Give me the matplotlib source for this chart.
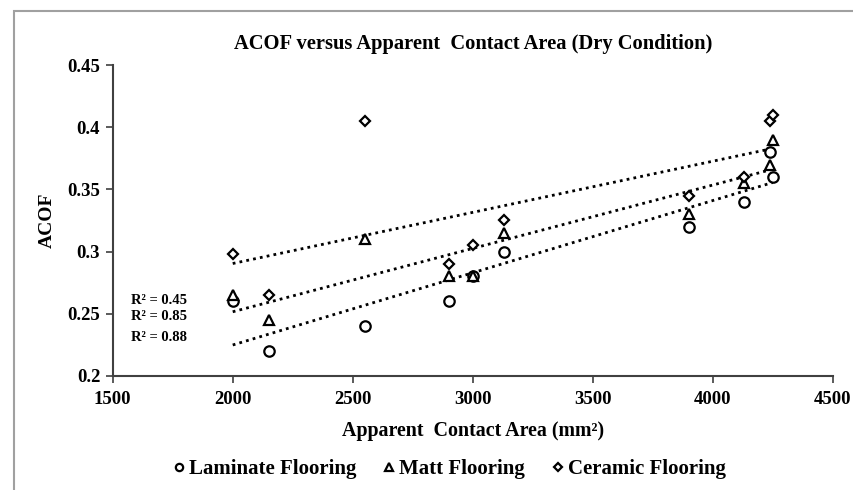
import numpy as np
import matplotlib
matplotlib.use("Agg")
import matplotlib.pyplot as plt
from matplotlib.patches import Rectangle

# Data
x_area = [2000, 2150, 2550, 2900, 3000, 3130, 3900, 4130, 4240, 4250]
laminate = [0.26, 0.22, 0.24, 0.26, 0.28, 0.30, 0.32, 0.34, 0.38, 0.36]
matt = [0.265, 0.245, 0.31, 0.28, 0.28, 0.315, 0.33, 0.355, 0.37, 0.39]
ceramic = [0.298, 0.265, 0.405, 0.29, 0.305, 0.325, 0.345, 0.36, 0.405, 0.41]
series_names = ["Laminate Flooring", "Matt Flooring", "Ceramic Flooring"]
r2_labels = ["R² = 0.45", "R² = 0.85", "R² = 0.88"]
x_ticks = [1500, 2000, 2500, 3000, 3500, 4000, 4500]
y_ticks = [0.2, 0.25, 0.3, 0.35, 0.4, 0.45]
y_tick_labels = ["0.2", "0.25", "0.3", "0.35", "0.4", "0.45"]

plt.rcParams['font.family'] = ['Liberation Serif', 'DejaVu Serif']
plt.rcParams['font.weight'] = 'bold'

fig = plt.figure(figsize=(8.54, 4.90), dpi=100)
fig.patches.append(Rectangle((14/854, -0.1), 1.2, 1 - 11/490 + 0.1, transform=fig.transFigure,
                             fill=False, edgecolor='#a0a0a0', linewidth=1.5))
ax = fig.add_axes([0.132, 0.233, 0.843, 0.634])

markers = ['o', '^', 'D']
sizes = [7.5, 7.5, 5.5]
xs = np.array(x_area, dtype=float)
for ys, m, s, name in zip([laminate, matt, ceramic], markers, sizes, series_names):
    ax.plot(x_area, ys, linestyle='none', marker=m, markersize=s, markerfacecolor='white',
            markeredgecolor='black', markeredgewidth=1.6, label=name, zorder=3)
    k, b = np.polyfit(xs, np.array(ys), 1)
    xl = np.array([xs.min(), xs.max()])
    ax.plot(xl, k * xl + b, linestyle=(0, (1, 1.5)), color='black', linewidth=2.0, zorder=2)

ax.set_xlim(1500, 4500)
ax.set_ylim(0.2, 0.45)
ax.set_xticks(x_ticks)
ax.set_yticks(y_ticks)
ax.set_yticklabels(y_tick_labels)
ax.tick_params(axis='both', direction='out', length=5, width=1.2, labelsize=13.5, color='#404040')
ax.tick_params(axis='x', pad=6)
ax.tick_params(axis='y', pad=4)
for lab in ax.get_xticklabels() + ax.get_yticklabels():
    lab.set_fontweight('bold')
for sp in ['top', 'right']:
    ax.spines[sp].set_visible(False)
for sp in ['left', 'bottom']:
    ax.spines[sp].set_linewidth(1.5)
    ax.spines[sp].set_color('#404040')

ax.set_title("ACOF versus Apparent  Contact Area (Dry Condition)", fontsize=14.8, fontweight='bold', pad=12)
ax.set_xlabel("Apparent  Contact Area (mm²)", fontsize=14.4, fontweight='bold', labelpad=9)
ax.set_ylabel("ACOF", fontsize=14, fontweight='bold', labelpad=8)

for lab, yy in zip(r2_labels, [0.2605, 0.2475, 0.2305]):
    ax.text(1575, yy, lab, fontsize=10.5, fontweight='bold', va='center', ha='left')

leg = fig.legend(loc='center', bbox_to_anchor=(0.527, 1 - 469/490), ncol=3, frameon=False,
                 fontsize=15, handlelength=0.45, handletextpad=0.25, columnspacing=1.35,
                 markerscale=0.7)
for t in leg.get_texts():
    t.set_fontweight('bold')

fig.savefig("out.png", dpi=100)
